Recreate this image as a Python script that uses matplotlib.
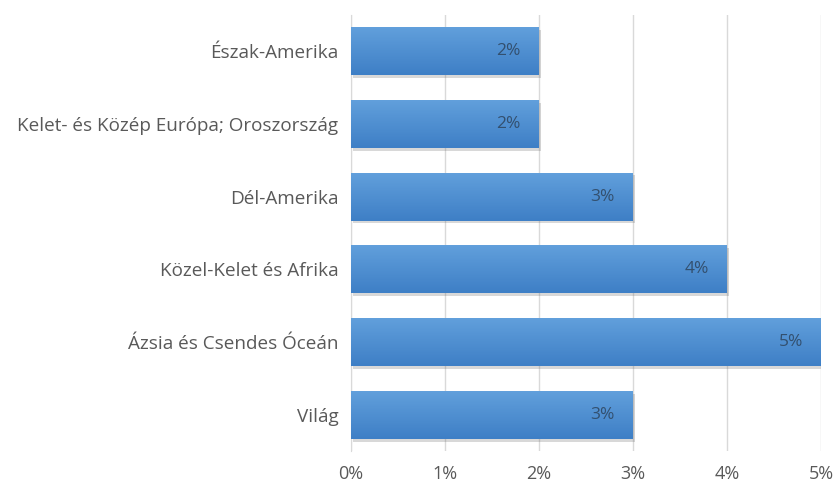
import numpy as np
import matplotlib
matplotlib.use("Agg")
import matplotlib.pyplot as plt
import matplotlib.patheffects as pe
from matplotlib.ticker import FuncFormatter

regions = ["Észak-Amerika", "Kelet- és Közép Európa; Oroszország", "Dél-Amerika",
           "Közel-Kelet és Afrika", "Ázsia és Csendes Óceán", "Világ"]
values = [2, 2, 3, 4, 5, 3]
x_ticks = [0, 1, 2, 3, 4, 5]

plt.rcParams['font.family'] = ['Open Sans', 'DejaVu Sans']

fig = plt.figure(figsize=(8.36, 4.88), dpi=100)
ax = fig.add_axes([0.42, 0.075, 0.562, 0.895])

y = np.arange(len(regions))
bars = ax.barh(y, values, height=0.66, color='#4f8fd3', zorder=3,
               path_effects=[pe.SimplePatchShadow(offset=(1.5, -2), shadow_rgbFace='#666666', alpha=0.25),
                             pe.Normal()])

# vertical gradient on every bar, lighter at the top
top = np.array([0x62, 0xa0, 0xdc]) / 255
bottom = np.array([0x3e, 0x7f, 0xc6]) / 255
t = np.linspace(0, 1, 64)[:, None, None]
grad = top * (1 - t) + bottom * t
for b in bars:
    x0, y0 = b.get_x(), b.get_y()
    w, h = b.get_width(), b.get_height()
    im = ax.imshow(grad, extent=[x0, x0 + w, y0 + h, y0], aspect='auto',
                   origin='upper', zorder=4, interpolation='bilinear')
    im.set_clip_path(b)

for yi, v in zip(y, values):
    ax.annotate(f"{v}%", (v, yi), xytext=(-13, 0), textcoords='offset points',
                ha='right', va='center', fontsize=12.5, color='#33506f', zorder=5)

ax.set_xlim(0, 5)
ax.set_ylim(len(regions) - 0.5, -0.5)
ax.set_xticks(x_ticks)
ax.xaxis.set_major_formatter(FuncFormatter(lambda v, _: f"{v:.0f}%"))
ax.set_yticks(y)
ax.set_yticklabels(regions)

ax.grid(axis='x', color='#d9d9d9', linewidth=1, zorder=0)
ax.set_axisbelow(True)
for s in ['top', 'right', 'bottom']:
    ax.spines[s].set_visible(False)
ax.spines['left'].set_color('#d9d9d9')
ax.tick_params(axis='both', length=0, colors='#595959', labelsize=13)
ax.tick_params(axis='y', pad=9, labelsize=13.6)
ax.tick_params(axis='x', pad=10)

fig.savefig("out.png", dpi=100)
